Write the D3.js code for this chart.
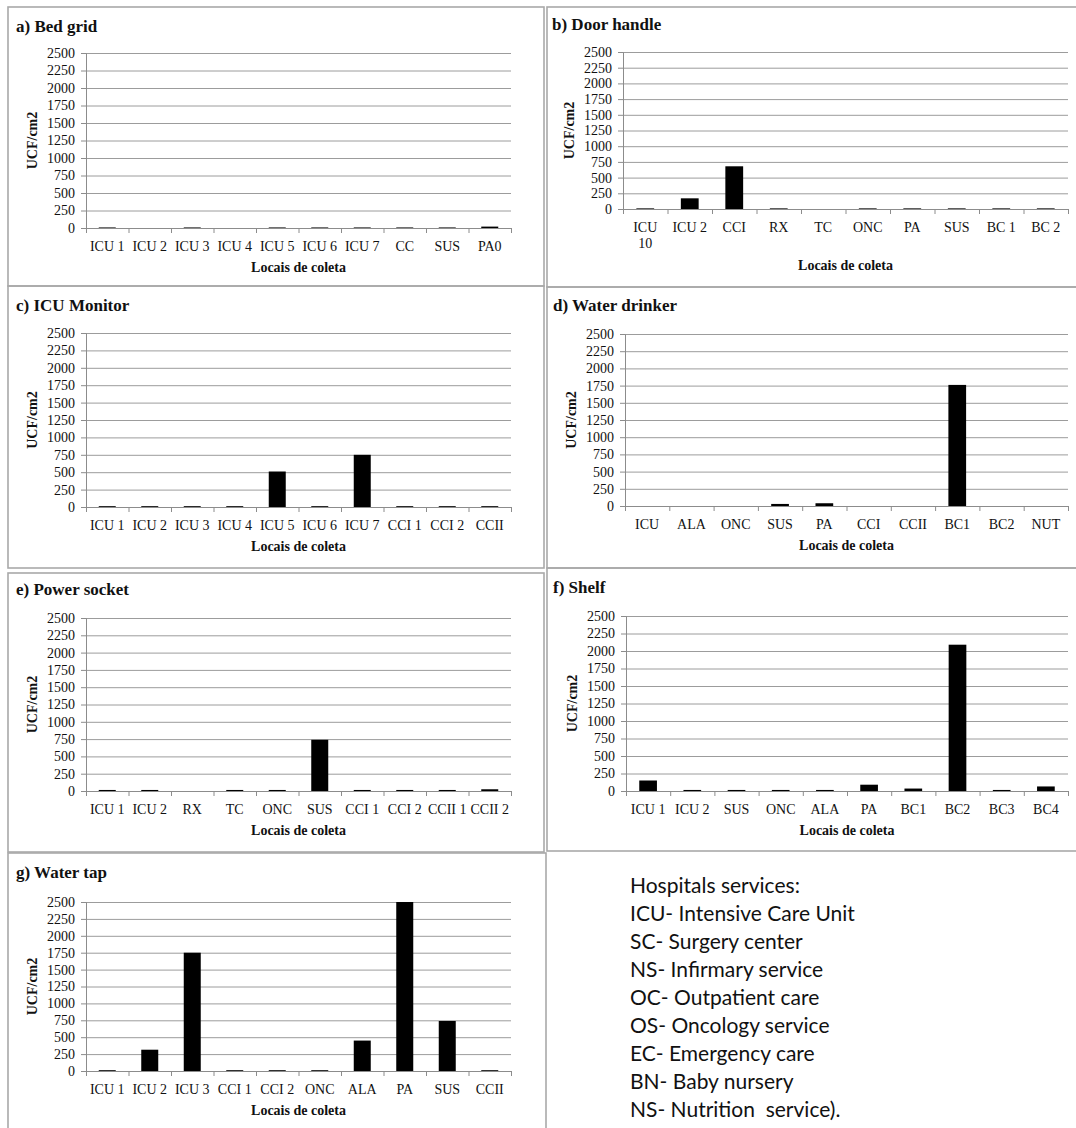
<!DOCTYPE html>
<html>
<head>
<meta charset="utf-8">
<script src="https://cdn.jsdelivr.net/npm/d3@7"></script>
<style>
  body { margin: 0; background: #fff; }
  svg { display: block; }
</style>
</head>
<body>
<div id="chart"></div>
<script>
// y ticks shared by every panel
const yTicks = [0, 250, 500, 750, 1000, 1250, 1500, 1750, 2000, 2250, 2500];

// a) Bed grid
const bedGridSites = ['ICU 1', 'ICU 2', 'ICU 3', 'ICU 4', 'ICU 5', 'ICU 6', 'ICU 7', 'CC', 'SUS', 'PA0'];
const bedGridUcf = [8, 0, 8, 0, 8, 8, 8, 8, 8, 20];

// b) Door handle
const doorHandleSites = ['ICU 10', 'ICU 2', 'CCI', 'RX', 'TC', 'ONC', 'PA', 'SUS', 'BC 1', 'BC 2'];
const doorHandleUcf = [10, 170, 680, 10, 0, 10, 10, 10, 10, 10];

// c) ICU Monitor
const monitorSites = ['ICU 1', 'ICU 2', 'ICU 3', 'ICU 4', 'ICU 5', 'ICU 6', 'ICU 7', 'CCI 1', 'CCI 2', 'CCII'];
const monitorUcf = [12, 12, 12, 12, 510, 12, 750, 12, 12, 12];

// d) Water drinker
const drinkerSites = ['ICU', 'ALA', 'ONC', 'SUS', 'PA', 'CCI', 'CCII', 'BC1', 'BC2', 'NUT'];
const drinkerUcf = [0, 0, 0, 30, 40, 0, 0, 1760, 0, 0];

// e) Power socket
const socketSites = ['ICU 1', 'ICU 2', 'RX', 'TC', 'ONC', 'SUS', 'CCI 1', 'CCI 2', 'CCII 1', 'CCII 2'];
const socketUcf = [15, 15, 0, 15, 15, 740, 15, 15, 15, 25];

// f) Shelf
const shelfSites = ['ICU 1', 'ICU 2', 'SUS', 'ONC', 'ALA', 'PA', 'BC1', 'BC2', 'BC3', 'BC4'];
const shelfUcf = [150, 15, 15, 15, 15, 90, 35, 2090, 15, 65];

// g) Water tap
const tapSites = ['ICU 1', 'ICU 2', 'ICU 3', 'CCI 1', 'CCI 2', 'ONC', 'ALA', 'PA', 'SUS', 'CCII'];
const tapUcf = [12, 315, 1750, 12, 12, 12, 450, 2500, 740, 12];

const legendLines = [
    'Hospitals services:',
    'ICU- Intensive Care Unit',
    'SC- Surgery center',
    'NS- Infirmary service',
    'OC- Outpatient care',
    'OS- Oncology service',
    'EC- Emergency care',
    'BN- Baby nursery',
    'NS- Nutrition  service).'
];

const W = 1076, H = 1128;
const serif = '"Liberation Serif", "Times New Roman", serif';

// frame: [x, y, w, h], plot: [left, right, top(2500), bottom(0)]
const panels = [
    { title: 'a) Bed grid', sites: bedGridSites, ucf: bedGridUcf,
      frame: [8, 7, 536, 279], plot: [86, 511, 53, 228], titleAt: [16, 32] },
    { title: 'b) Door handle', sites: doorHandleSites, ucf: doorHandleUcf,
      frame: [547, 7, 540, 280], plot: [623, 1068, 52, 209], titleAt: [552, 30] },
    { title: 'c) ICU Monitor', sites: monitorSites, ucf: monitorUcf,
      frame: [8, 286, 536, 282], plot: [86, 511, 333, 507], titleAt: [16, 311] },
    { title: 'd) Water drinker', sites: drinkerSites, ucf: drinkerUcf,
      frame: [547, 287, 540, 281], plot: [625, 1068, 334, 506], titleAt: [553, 311] },
    { title: 'e) Power socket', sites: socketSites, ucf: socketUcf,
      frame: [8, 573, 536, 279], plot: [86, 511, 618, 791], titleAt: [16, 595] },
    { title: 'f) Shelf', sites: shelfSites, ucf: shelfUcf,
      frame: [547, 568, 540, 283], plot: [626, 1068, 616, 791], titleAt: [553, 593] },
    { title: 'g) Water tap', sites: tapSites, ucf: tapUcf,
      frame: [8, 853, 538, 300], plot: [86, 511, 902, 1071], titleAt: [16, 878] }
];

const svg = d3.select('#chart')
    .append('svg')
    .attr('width', W)
    .attr('height', H);

svg.append('rect')
    .attr('width', W)
    .attr('height', H)
    .attr('fill', '#fff');

panels.forEach(p => {
    const [left, right, top, bottom] = p.plot;
    const g = svg.append('g');

    // panel frame
    g.append('rect')
        .attr('x', p.frame[0])
        .attr('y', p.frame[1])
        .attr('width', p.frame[2])
        .attr('height', p.frame[3])
        .attr('fill', 'none')
        .attr('stroke', '#a9a9a9')
        .attr('stroke-width', 1.6);

    g.append('text')
        .attr('x', p.titleAt[0])
        .attr('y', p.titleAt[1])
        .attr('font-family', serif)
        .attr('font-weight', 'bold')
        .attr('font-size', '17px')
        .attr('fill', '#111')
        .text(p.title);

    const y = d3.scaleLinear().domain([0, 2500]).range([bottom, top]);
    const x = d3.scaleBand().domain(p.sites).range([left, right]).paddingInner(0).paddingOuter(0);
    const xEdge = d3.scaleLinear().domain([0, p.sites.length]).range([left, right]);

    // gridlines
    g.append('g')
        .attr('transform', `translate(${left},0)`)
        .call(d3.axisLeft(y).tickValues(yTicks.filter(t => t > 0)).tickSize(-(right - left)).tickFormat(''))
        .call(a => a.select('.domain').remove())
        .call(a => a.selectAll('line').attr('stroke', '#9c9c9c').attr('stroke-width', 1));

    // y axis with outside ticks
    g.append('g')
        .attr('transform', `translate(${left},0)`)
        .call(d3.axisLeft(y).tickValues(yTicks).tickSize(5).tickPadding(6).tickFormat(d3.format('d')))
        .attr('font-family', serif)
        .attr('font-size', 14)
        .call(a => a.select('.domain').attr('stroke', '#8c8c8c'))
        .call(a => a.selectAll('line').attr('stroke', '#8c8c8c'))
        .call(a => a.selectAll('text').attr('fill', '#111'));

    // bars
    const barW = x.bandwidth() / 2.5;
    g.selectAll('rect.bar')
        .data(p.sites.map((s, i) => ({ site: s, v: p.ucf[i] })))
        .enter()
        .append('rect')
        .attr('class', 'bar')
        .attr('x', d => x(d.site) + (x.bandwidth() - barW) / 2)
        .attr('y', d => y(d.v))
        .attr('width', barW)
        .attr('height', d => bottom - y(d.v))
        .attr('fill', '#000');

    // x axis: ticks at category boundaries
    g.append('g')
        .attr('transform', `translate(0,${bottom})`)
        .call(d3.axisBottom(xEdge).tickValues(d3.range(p.sites.length + 1)).tickSize(5).tickFormat(''))
        .call(a => a.select('.domain').attr('stroke', '#8c8c8c'))
        .call(a => a.selectAll('line').attr('stroke', '#8c8c8c'));

    // category labels
    const labels = g.append('g')
        .attr('transform', `translate(0,${bottom})`)
        .call(d3.axisBottom(x).tickSize(0).tickPadding(0))
        .attr('font-family', serif)
        .attr('font-size', 14)
        .call(a => a.select('.domain').remove());
    let wrapped = false;
    labels.selectAll('text')
        .attr('fill', '#111')
        .attr('dy', null)
        .attr('y', 23)
        .each(function (d) {
            const t = d3.select(this);
            if (this.getComputedTextLength() > x.bandwidth() * 0.92 && d.includes(' ')) {
                const parts = d.split(' ');
                t.text(null);
                parts.forEach((w, k) => {
                    t.append('tspan').attr('x', 0).attr('dy', k === 0 ? 0 : 16).text(w);
                });
                wrapped = true;
            }
        });

    g.append('text')
        .attr('x', (left + right) / 2)
        .attr('y', bottom + (wrapped ? 61 : 44))
        .attr('text-anchor', 'middle')
        .attr('font-family', serif)
        .attr('font-weight', 'bold')
        .attr('font-size', '14px')
        .attr('fill', '#111')
        .text('Locais de coleta');

    g.append('text')
        .attr('transform', `translate(${left - 49},${(top + bottom) / 2}) rotate(-90)`)
        .attr('text-anchor', 'middle')
        .attr('font-family', serif)
        .attr('font-weight', 'bold')
        .attr('font-size', '14px')
        .attr('fill', '#111')
        .text('UCF/cm2');
});

// legend of hospital services
svg.append('g')
    .selectAll('text')
    .data(legendLines)
    .enter()
    .append('text')
    .attr('x', 630)
    .attr('y', (d, i) => 893 + i * 28)
    .attr('font-family', 'Lato, "Open Sans", sans-serif')
    .attr('font-size', '21px')
    .attr('fill', '#111')
    .attr('xml:space', 'preserve')
    .text(d => d);
</script>
</body>
</html>
